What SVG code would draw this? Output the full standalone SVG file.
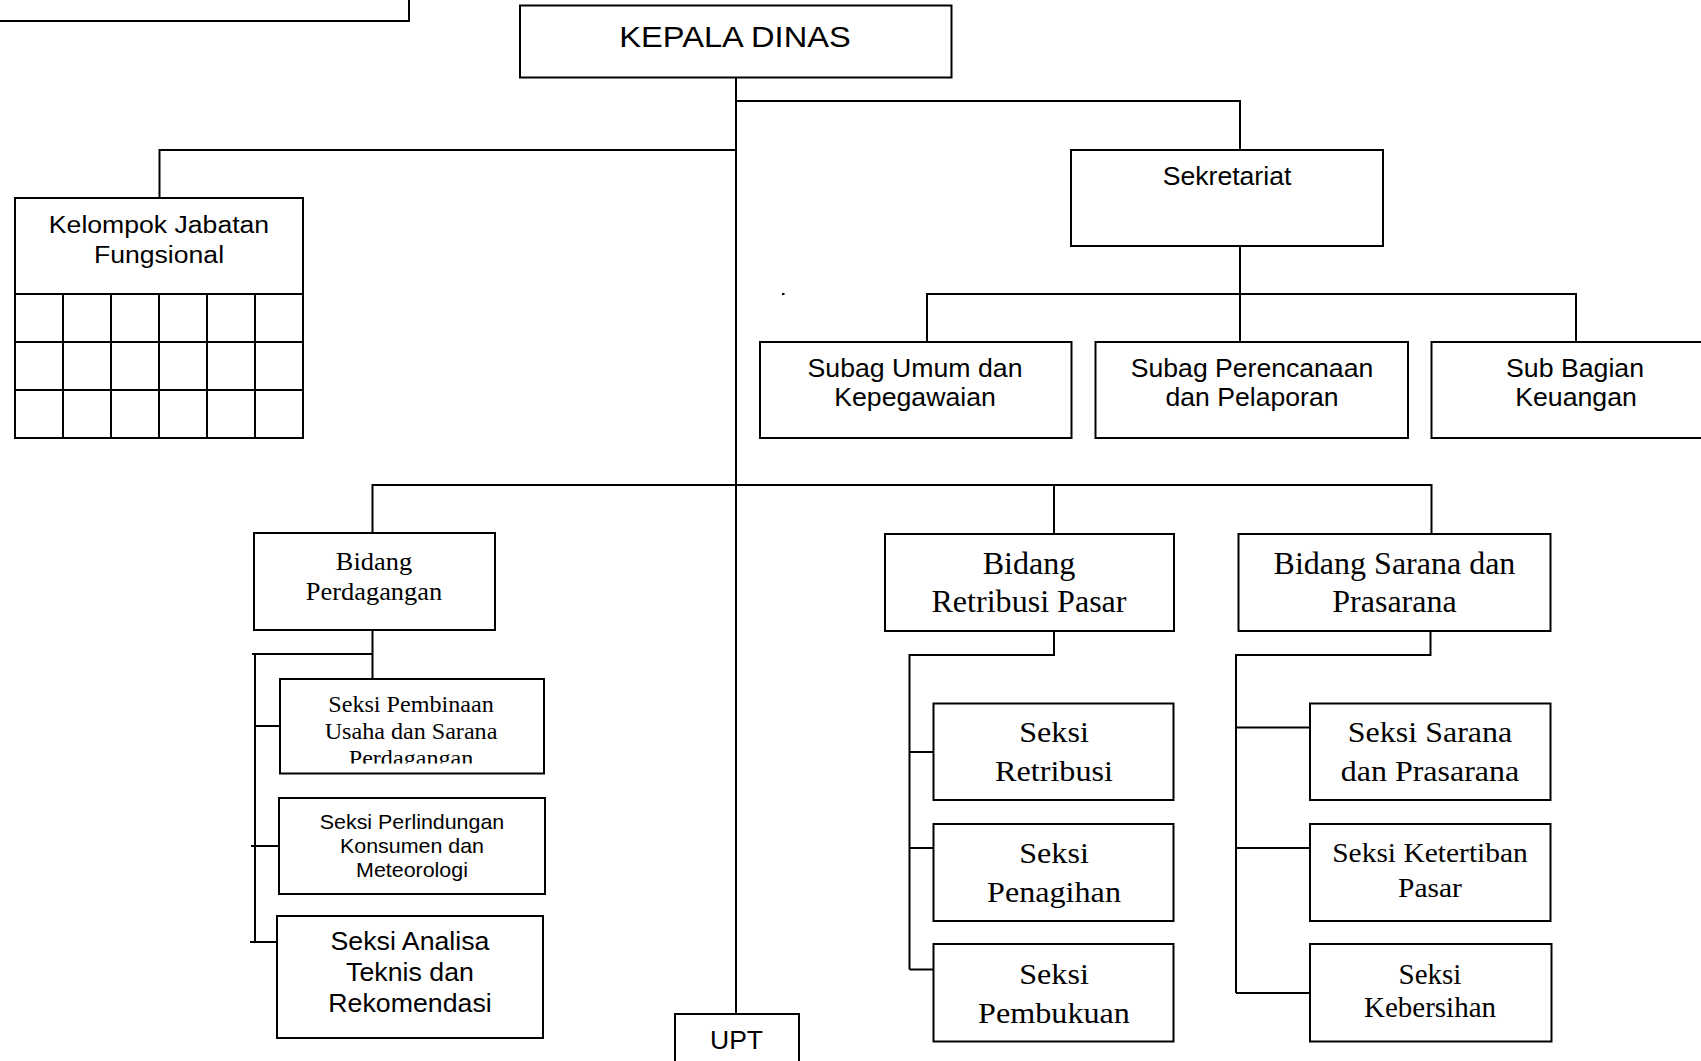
<svg xmlns="http://www.w3.org/2000/svg" width="1701" height="1061" viewBox="0 0 1701 1061">
  <style>
    .box { fill: #fff; stroke: #000; stroke-width: 2; }
    .ln { fill: none; stroke: #000; stroke-width: 2; }
    .a { font-family: "Liberation Sans", Arial, sans-serif; text-anchor: middle; fill: #000; }
    .t { font-family: "Liberation Serif", "Times New Roman", serif; text-anchor: middle; fill: #000; }
  </style>
  <defs>
    <clipPath id="clip-pembinaan">
      <rect x="281" y="680" width="262" height="83.5"/>
    </clipPath>
  </defs>
  <rect width="1701" height="1061" fill="#fff"/>

  <!-- connectors -->
  <g id="connectors" class="ln">
    <!-- trunk from Kepala Dinas down to UPT -->
    <path d="M736 77 V1014"/>
    <!-- to Sekretariat -->
    <path d="M736 101 H1240 V150"/>
    <!-- to Kelompok Jabatan Fungsional -->
    <path d="M736 150 H159.5 V198"/>
    <!-- Sekretariat to sub-sections -->
    <path d="M1240 246 V342"/>
    <path d="M927 342 V294 H1576 V342"/>
    <!-- Bidang bar -->
    <path d="M372.5 533 V485 H1431.5 V533"/>
    <path d="M1054 485 V533"/>
    <!-- Bidang Perdagangan children -->
    <path d="M372.5 630 V679"/>
    <path d="M372.5 654 H252 M255 653 V942"/>
    <path d="M255 726 H280"/>
    <path d="M251 846 H279"/>
    <path d="M250 942 H277"/>
    <!-- Bidang Retribusi Pasar children -->
    <path d="M1054 631 V655 H909.5 V969.5"/>
    <path d="M909.5 752 H933.5"/>
    <path d="M909.5 848 H933.5"/>
    <path d="M909.5 969.5 H933.5"/>
    <!-- Bidang Sarana dan Prasarana children -->
    <path d="M1430.5 631 V655 H1236 V993"/>
    <path d="M1236 727.5 H1310"/>
    <path d="M1236 848 H1310"/>
    <path d="M1236 993 H1310"/>
  </g>

  <!-- stray dot -->
  <rect x="782" y="293" width="2.5" height="2" fill="#000"/>

  <!-- box cut off at top-left edge -->
  <g id="node-topleft">
    <rect class="box" x="-5" y="-60" width="414" height="81"/>
  </g>

  <g id="node-kepala">
    <rect class="box" x="520" y="5.5" width="431.5" height="72"/>
    <text class="a" font-size="30" transform="translate(735 47) scale(1.087 1)">KEPALA DINAS</text>
  </g>

  <g id="node-kelompok">
    <rect class="box" x="15" y="198" width="288" height="240"/>
    <path class="ln" d="M15 294 H303 M15 342 H303 M15 390 H303 M63 294 V438 M111 294 V438 M159 294 V438 M207 294 V438 M255 294 V438"/>
    <text class="a" font-size="24.5" transform="translate(159 233) scale(1.086 1)">Kelompok Jabatan</text>
    <text class="a" font-size="24.5" transform="translate(159 263) scale(1.086 1)">Fungsional</text>
  </g>

  <g id="node-sekretariat">
    <rect class="box" x="1071" y="150" width="312" height="96"/>
    <text class="a" font-size="25.5" transform="translate(1227 185) scale(1.044 1)">Sekretariat</text>
  </g>

  <g id="node-subag-umum">
    <rect class="box" x="760" y="342" width="311.5" height="96"/>
    <text class="a" font-size="25" transform="translate(915 377) scale(1.067 1)">Subag Umum dan</text>
    <text class="a" font-size="25" transform="translate(915 406) scale(1.067 1)">Kepegawaian</text>
  </g>

  <g id="node-subag-perencanaan">
    <rect class="box" x="1095.5" y="342" width="312.5" height="96"/>
    <text class="a" font-size="25" transform="translate(1252 377) scale(1.064 1)">Subag Perencanaan</text>
    <text class="a" font-size="25" transform="translate(1252 406) scale(1.064 1)">dan Pelaporan</text>
  </g>

  <g id="node-sub-bagian-keuangan">
    <rect class="box" x="1431.5" y="342" width="320" height="96"/>
    <text class="a" font-size="25" transform="translate(1575 377) scale(1.068 1)">Sub Bagian</text>
    <text class="a" font-size="25" transform="translate(1576 406) scale(1.068 1)">Keuangan</text>
  </g>

  <g id="node-bidang-perdagangan">
    <rect class="box" x="254" y="533" width="241" height="97"/>
    <text class="t" font-size="26" transform="translate(374 570) scale(1.016 1)">Bidang</text>
    <text class="t" font-size="26" transform="translate(374 600) scale(1.016 1)">Perdagangan</text>
  </g>

  <g id="node-seksi-pembinaan">
    <rect class="box" x="280" y="679" width="264" height="94.5"/>
    <g clip-path="url(#clip-pembinaan)">
      <text class="t" font-size="23.5" transform="translate(411 711.5) scale(1.027 1)">Seksi Pembinaan</text>
      <text class="t" font-size="23.5" transform="translate(411 739) scale(1.027 1)">Usaha dan Sarana</text>
      <text class="t" font-size="23.5" transform="translate(411 766) scale(1.027 1)">Perdagangan</text>
    </g>
  </g>

  <g id="node-seksi-perlindungan">
    <rect class="box" x="279" y="798" width="266" height="96"/>
    <text class="a" font-size="21" transform="translate(412 829) scale(1.02 1)">Seksi Perlindungan</text>
    <text class="a" font-size="21" transform="translate(412 853) scale(1.02 1)">Konsumen dan</text>
    <text class="a" font-size="21" transform="translate(412 877) scale(1.02 1)">Meteorologi</text>
  </g>

  <g id="node-seksi-analisa">
    <rect class="box" x="277" y="916" width="266" height="122"/>
    <text class="a" font-size="26" transform="translate(410 950) scale(1.028 1)">Seksi Analisa</text>
    <text class="a" font-size="26" transform="translate(410 981) scale(1.028 1)">Teknis dan</text>
    <text class="a" font-size="26" transform="translate(410 1011.5) scale(1.028 1)">Rekomendasi</text>
  </g>

  <g id="node-upt">
    <rect class="box" x="675" y="1014" width="124" height="70"/>
    <text class="a" font-size="25.5" transform="translate(736.5 1049) scale(1.04 1)">UPT</text>
  </g>

  <g id="node-bidang-retribusi">
    <rect class="box" x="885" y="534" width="289" height="97"/>
    <text class="t" font-size="31" transform="translate(1029 574) scale(1.035 1)">Bidang</text>
    <text class="t" font-size="31" transform="translate(1029 612) scale(1.035 1)">Retribusi Pasar</text>
  </g>

  <g id="node-seksi-retribusi">
    <rect class="box" x="933.5" y="703.5" width="240" height="96.5"/>
    <text class="t" font-size="30.5" transform="translate(1054 742) scale(1.055 1)">Seksi</text>
    <text class="t" font-size="30.5" transform="translate(1054 781) scale(1.055 1)">Retribusi</text>
  </g>

  <g id="node-seksi-penagihan">
    <rect class="box" x="933.5" y="824" width="240" height="97"/>
    <text class="t" font-size="30.5" transform="translate(1054 863) scale(1.055 1)">Seksi</text>
    <text class="t" font-size="30.5" transform="translate(1054 902) scale(1.055 1)">Penagihan</text>
  </g>

  <g id="node-seksi-pembukuan">
    <rect class="box" x="933.5" y="944" width="240" height="97.5"/>
    <text class="t" font-size="30.5" transform="translate(1054 983.5) scale(1.055 1)">Seksi</text>
    <text class="t" font-size="30.5" transform="translate(1054 1022.5) scale(1.055 1)">Pembukuan</text>
  </g>

  <g id="node-bidang-sarana">
    <rect class="box" x="1238.5" y="534" width="312" height="97"/>
    <text class="t" font-size="31" transform="translate(1394.5 574) scale(1.033 1)">Bidang Sarana dan</text>
    <text class="t" font-size="31" transform="translate(1394.5 612) scale(1.033 1)">Prasarana</text>
  </g>

  <g id="node-seksi-sarana">
    <rect class="box" x="1310" y="703.5" width="240.5" height="96.5"/>
    <text class="t" font-size="30.5" transform="translate(1430 742) scale(1.049 1)">Seksi Sarana</text>
    <text class="t" font-size="30.5" transform="translate(1430 781) scale(1.049 1)">dan Prasarana</text>
  </g>

  <g id="node-seksi-ketertiban">
    <rect class="box" x="1310" y="824" width="240.5" height="97"/>
    <text class="t" font-size="28" transform="translate(1430 862) scale(1.053 1)">Seksi Ketertiban</text>
    <text class="t" font-size="28" transform="translate(1430 896.5) scale(1.053 1)">Pasar</text>
  </g>

  <g id="node-seksi-kebersihan">
    <rect class="box" x="1310" y="944" width="241.5" height="97.5"/>
    <text class="t" font-size="28.5" transform="translate(1430 983.5) scale(1.017 1)">Seksi</text>
    <text class="t" font-size="28.5" transform="translate(1430 1016.5) scale(1.017 1)">Kebersihan</text>
  </g>
</svg>
